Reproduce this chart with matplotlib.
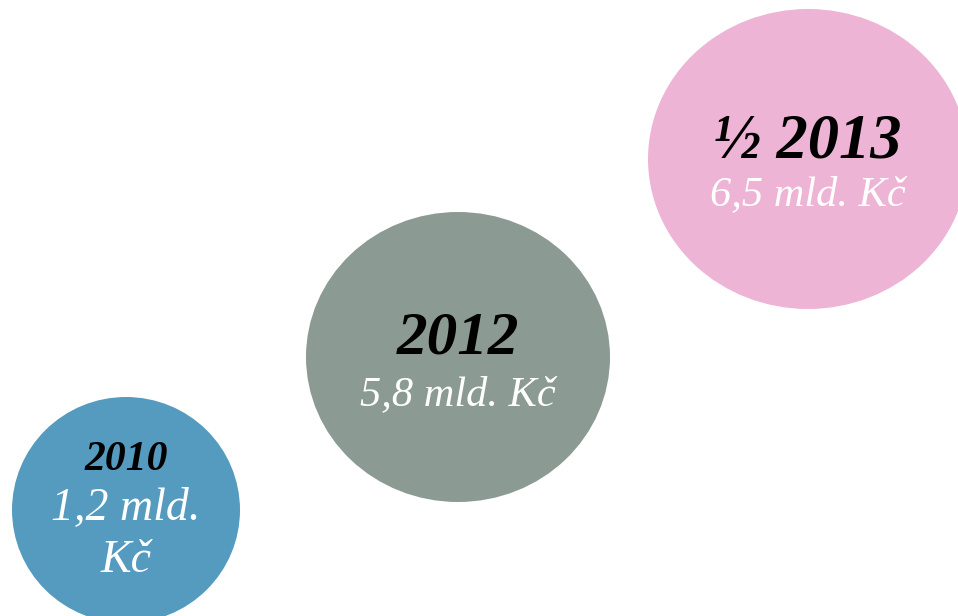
"""Three bubbles showing amounts per year (mld. Kč)."""

import matplotlib.pyplot as plt
from matplotlib.patches import Ellipse

# data
years = ['2010', '2012', '½ 2013']
amounts = ['1,2 mld.\nKč', '5,8 mld. Kč', '6,5 mld. Kč']
colors = ['#559BBF', '#8B9A92', '#EEB4D5']

# layout (pixels, y pointing down)
centers = [(126, 510), (458, 357), (808, 159)]
sizes = [(228, 226), (304, 290), (320, 300)]
year_base = [470, 353, 157]
amount_base = [520, 405, 205]
year_fs = [30, 44, 45]
amount_fs = [33, 30.5, 30.5]

fig = plt.figure(figsize=(9.58, 6.16), dpi=100)
ax = fig.add_axes([0, 0, 1, 1])
ax.set_xlim(0, 958)
ax.set_ylim(616, 0)
ax.axis('off')

for i in range(len(years)):
    w, h = sizes[i]
    ax.add_patch(Ellipse(centers[i], w, h, facecolor=colors[i], edgecolor='none'))
    cx = centers[i][0]
    ax.text(cx, year_base[i], years[i], ha='center', va='baseline',
            fontsize=year_fs[i], fontweight='bold', fontstyle='italic',
            family='Liberation Serif', color='black')
    lines = amounts[i].split('\n')
    for j, line in enumerate(lines):
        ax.text(cx, amount_base[i] + j * 52, line, ha='center', va='baseline',
                fontsize=amount_fs[i], fontstyle='italic',
                family='Liberation Serif', color='white')

plt.savefig('out.png', dpi=100)
